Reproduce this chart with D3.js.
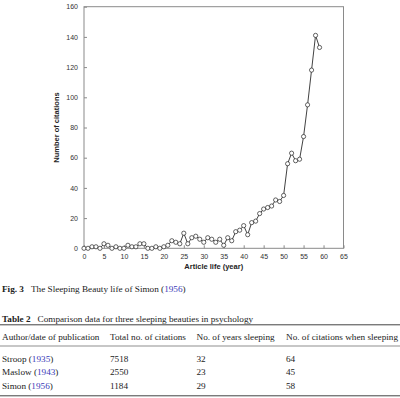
<!DOCTYPE html>
<html>
<head>
<meta charset="utf-8">
<script src="https://cdnjs.cloudflare.com/ajax/libs/d3/7.8.5/d3.min.js"></script>
<style>
  body { margin: 0; background: #fff; }
  svg { display: block; }
  .serif { font-family: "Liberation Serif", "Times New Roman", serif; fill: #222; }
  .link { fill: #3a3ab8; }
</style>
</head>
<body>
<div id="chart"></div>
<script>
// citations per year of article life (Simon 1956)
const years = d3.range(0, 60);
const citations = [0, 0, 1, 1, 0, 3, 2, 0, 1, 0,
                   0, 2, 1, 1, 3, 3, 0, 0, 1, 0,
                   1, 2, 5, 4, 3, 10, 3, 7, 8, 6,
                   4, 7, 6, 4, 6, 2, 7, 5, 11, 12,
                   15, 9, 17, 18, 23, 26, 27, 28, 32, 31,
                   35, 56, 63, 58, 59, 74, 95, 118, 141, 133];
const xTicks = d3.range(0, 66, 5);
const yTicks = d3.range(0, 161, 20);

// table data
const tableHeader = ["Author/date of publication", "Total no. of citations", "No. of years sleeping", "No. of citations when sleeping"];
const authors = ["Stroop", "Maslow", "Simon"];
const pubYears = ["1935", "1943", "1956"];
const totalCitations = ["7518", "2550", "1184"];
const yearsSleeping = ["32", "23", "29"];
const citationsSleeping = ["64", "45", "58"];

const W = 400, H = 398;
const FS = 9.2; // serif text size
const svg = d3.select('#chart').append('svg').attr('width', W).attr('height', H);

const x = d3.scaleLinear().domain([0, 65]).range([84, 343.5]);
const y = d3.scaleLinear().domain([0, 160]).range([248.3, 6.7]);

// frame
svg.append('rect')
  .attr('x', x(0)).attr('y', y(160))
  .attr('width', x(65) - x(0)).attr('height', y(0) - y(160))
  .attr('fill', 'none').attr('stroke', '#8a8a8a').attr('stroke-width', 1);

const tickFont = g => g.selectAll('text')
  .attr('font-family', 'Liberation Sans, Arial, sans-serif')
  .attr('font-size', 7).attr('fill', '#333');

svg.append('g')
  .attr('transform', `translate(0,${y(0)})`)
  .call(d3.axisBottom(x).tickValues(xTicks).tickSize(-3).tickPadding(6))
  .call(g => g.select('.domain').remove())
  .call(g => g.selectAll('line').attr('stroke', '#8a8a8a'))
  .call(tickFont);

svg.append('g')
  .attr('transform', `translate(${x(0)},0)`)
  .call(d3.axisLeft(y).tickValues(yTicks).tickSize(-3).tickPadding(6))
  .call(g => g.select('.domain').remove())
  .call(g => g.selectAll('line').attr('stroke', '#8a8a8a'))
  .call(tickFont);

// axis titles
svg.append('text')
  .attr('x', (x(0) + x(65)) / 2).attr('y', 269)
  .attr('text-anchor', 'middle')
  .attr('font-family', 'Liberation Sans, Arial, sans-serif')
  .attr('font-size', 7.5).attr('font-weight', 'bold').attr('fill', '#222')
  .text('Article life (year)');

svg.append('text')
  .attr('transform', `translate(59,${(y(0) + y(160)) / 2}) rotate(-90)`)
  .attr('text-anchor', 'middle')
  .attr('font-family', 'Liberation Sans, Arial, sans-serif')
  .attr('font-size', 7.5).attr('font-weight', 'bold').attr('fill', '#222')
  .text('Number of citations');

// series
const pts = years.map((yr, i) => ({ yr, v: citations[i] }));

svg.append('path')
  .datum(pts)
  .attr('fill', 'none').attr('stroke', '#111').attr('stroke-width', 0.8)
  .attr('d', d3.line().x(d => x(d.yr)).y(d => y(d.v)));

svg.append('g').selectAll('circle')
  .data(pts)
  .join('circle')
  .attr('cx', d => x(d.yr)).attr('cy', d => y(d.v))
  .attr('r', 2.1)
  .attr('fill', '#fff').attr('stroke', '#222').attr('stroke-width', 0.7);

// caption
const cap = svg.append('text').attr('class', 'serif')
  .attr('x', 2).attr('y', 292).attr('font-size', FS);
cap.append('tspan').attr('font-weight', 'bold').text('Fig. 3');
cap.append('tspan').attr('dx', 7).text('The Sleeping Beauty life of Simon (');
cap.append('tspan').attr('class', 'link').text('1956');
cap.append('tspan').text(')');

const tt = svg.append('text').attr('class', 'serif')
  .attr('x', 2).attr('y', 322).attr('font-size', FS);
tt.append('tspan').attr('font-weight', 'bold').text('Table 2');
tt.append('tspan').attr('dx', 7).text('Comparison data for three sleeping beauties in psychology');

// table
const colX = [2, 110, 196.5, 286];
const rules = [324.8, 346, 395.8];
svg.selectAll('line.rule')
  .data(rules)
  .join('line')
  .attr('class', 'rule')
  .attr('x1', 0).attr('x2', W)
  .attr('y1', d => d).attr('y2', d => d)
  .attr('stroke', '#444').attr('stroke-width', d => d === 346 ? 0.6 : 1);

svg.append('g').selectAll('text')
  .data(tableHeader)
  .join('text')
  .attr('class', 'serif')
  .attr('x', (d, i) => colX[i]).attr('y', 339.8)
  .attr('font-size', FS)
  .text(d => d);

const rowY = [361.8, 374.8, 388.8];
authors.forEach((a, i) => {
  const t = svg.append('text').attr('class', 'serif')
    .attr('x', colX[0]).attr('y', rowY[i]).attr('font-size', FS);
  t.append('tspan').text(a + ' (');
  t.append('tspan').attr('class', 'link').text(pubYears[i]);
  t.append('tspan').text(')');
  [totalCitations[i], yearsSleeping[i], citationsSleeping[i]].forEach((v, j) => {
    svg.append('text').attr('class', 'serif')
      .attr('x', colX[j + 1]).attr('y', rowY[i]).attr('font-size', FS)
      .text(v);
  });
});
</script>
</body>
</html>
